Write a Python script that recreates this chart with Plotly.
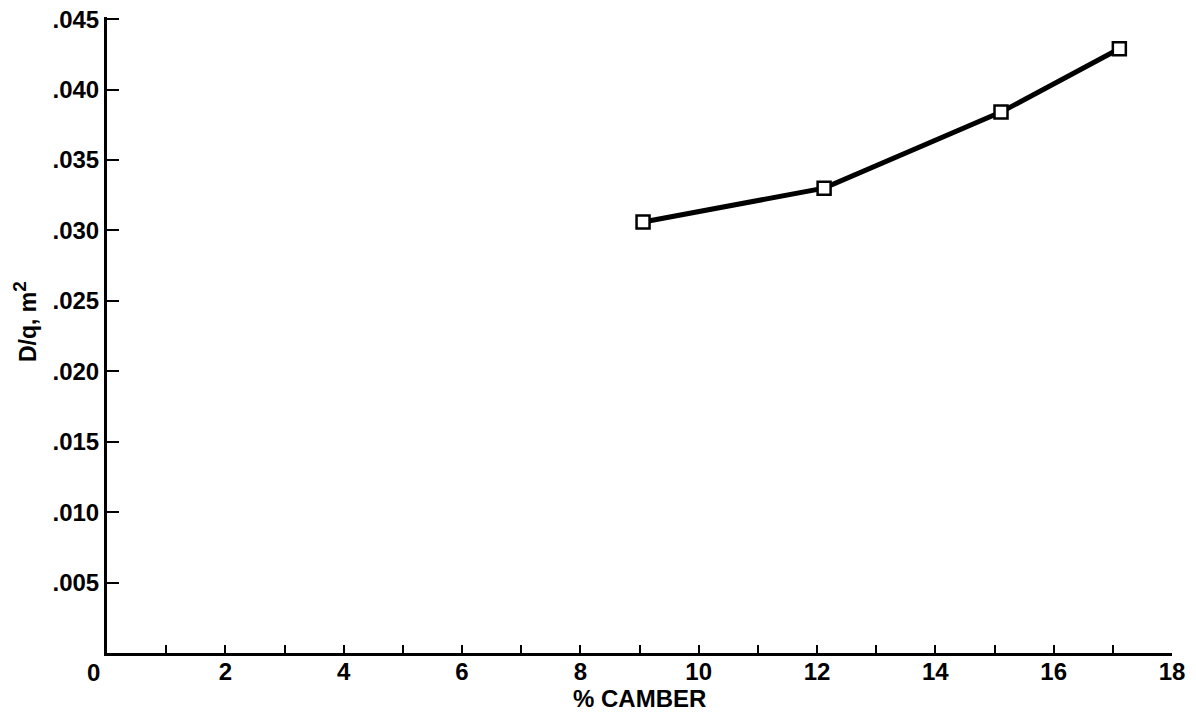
import plotly.graph_objects as go

camber = [9.06, 12.12, 15.11, 17.11]
dq = [0.0306, 0.0330, 0.0384, 0.0429]

x_tickvals = list(range(0, 19))
x_ticktext = ["" if (v % 2 == 1 or v == 0) else str(v) for v in x_tickvals]
y_tickvals = [0.005, 0.010, 0.015, 0.020, 0.025, 0.030, 0.035, 0.040, 0.045]
y_ticktext = [".005", ".010", ".015", ".020", ".025", ".030", ".035", ".040", ".045"]

FONT = "Liberation Sans"
W, H = 1196, 721
L, R, T, B = 107, 24, 17, 68
pw, ph = W - L - R, H - T - B

fig = go.Figure()
fig.add_trace(go.Scatter(
    x=camber, y=dq, mode="lines+markers",
    line=dict(color="black", width=5),
    marker=dict(symbol="square", size=13, color="white",
                line=dict(color="black", width=2.5)),
    cliponaxis=False, showlegend=False,
))

fig.update_layout(
    width=W, height=H,
    margin=dict(l=L, r=R, t=T, b=B, autoexpand=False),
    paper_bgcolor="white", plot_bgcolor="white",
    font=dict(family=FONT, color="black", size=24, weight="bold"),
    xaxis=dict(
        range=[0, 18], tickvals=x_tickvals, ticktext=x_ticktext,
        ticks="inside", ticklen=8, tickwidth=2, tickcolor="black",
        showline=True, linecolor="black", linewidth=3,
        showgrid=False, zeroline=False, automargin=False,
        tickfont=dict(family=FONT, size=24, weight="bold"),
        ticklabelstandoff=-5,
    ),
    yaxis=dict(
        range=[0, 0.04515], tickvals=y_tickvals, ticktext=y_ticktext,
        ticks="inside", ticklen=12, tickwidth=2, tickcolor="black",
        showline=True, linecolor="black", linewidth=3,
        showgrid=False, zeroline=False, automargin=False,
        tickfont=dict(family=FONT, size=24, weight="bold"),
    ),
    annotations=[
        dict(text="0", x=(93 - L) / pw, xref="paper", y=(H - B - 672) / ph, yref="paper",
             showarrow=False, xanchor="center", yanchor="middle",
             font=dict(family=FONT, size=24, weight="bold")),
        dict(text="% CAMBER", x=0.5, xref="paper", y=(H - B - 698) / ph, yref="paper",
             showarrow=False, xanchor="center", yanchor="middle",
             font=dict(family=FONT, size=24, weight="bold")),
        dict(text="D/q, m<sup><span style='font-size:19px'>2</span></sup>",
             x=(25 - L) / pw, xref="paper", y=(H - B - 322) / ph, yref="paper",
             textangle=-90, showarrow=False, xanchor="center", yanchor="middle",
             font=dict(family=FONT, size=23, weight="bold")),
    ],
)

fig.write_html("out.html",
               config={"displayModeBar": False},
               post_script="document.body.style.margin='0';document.body.style.overflow='hidden';")
